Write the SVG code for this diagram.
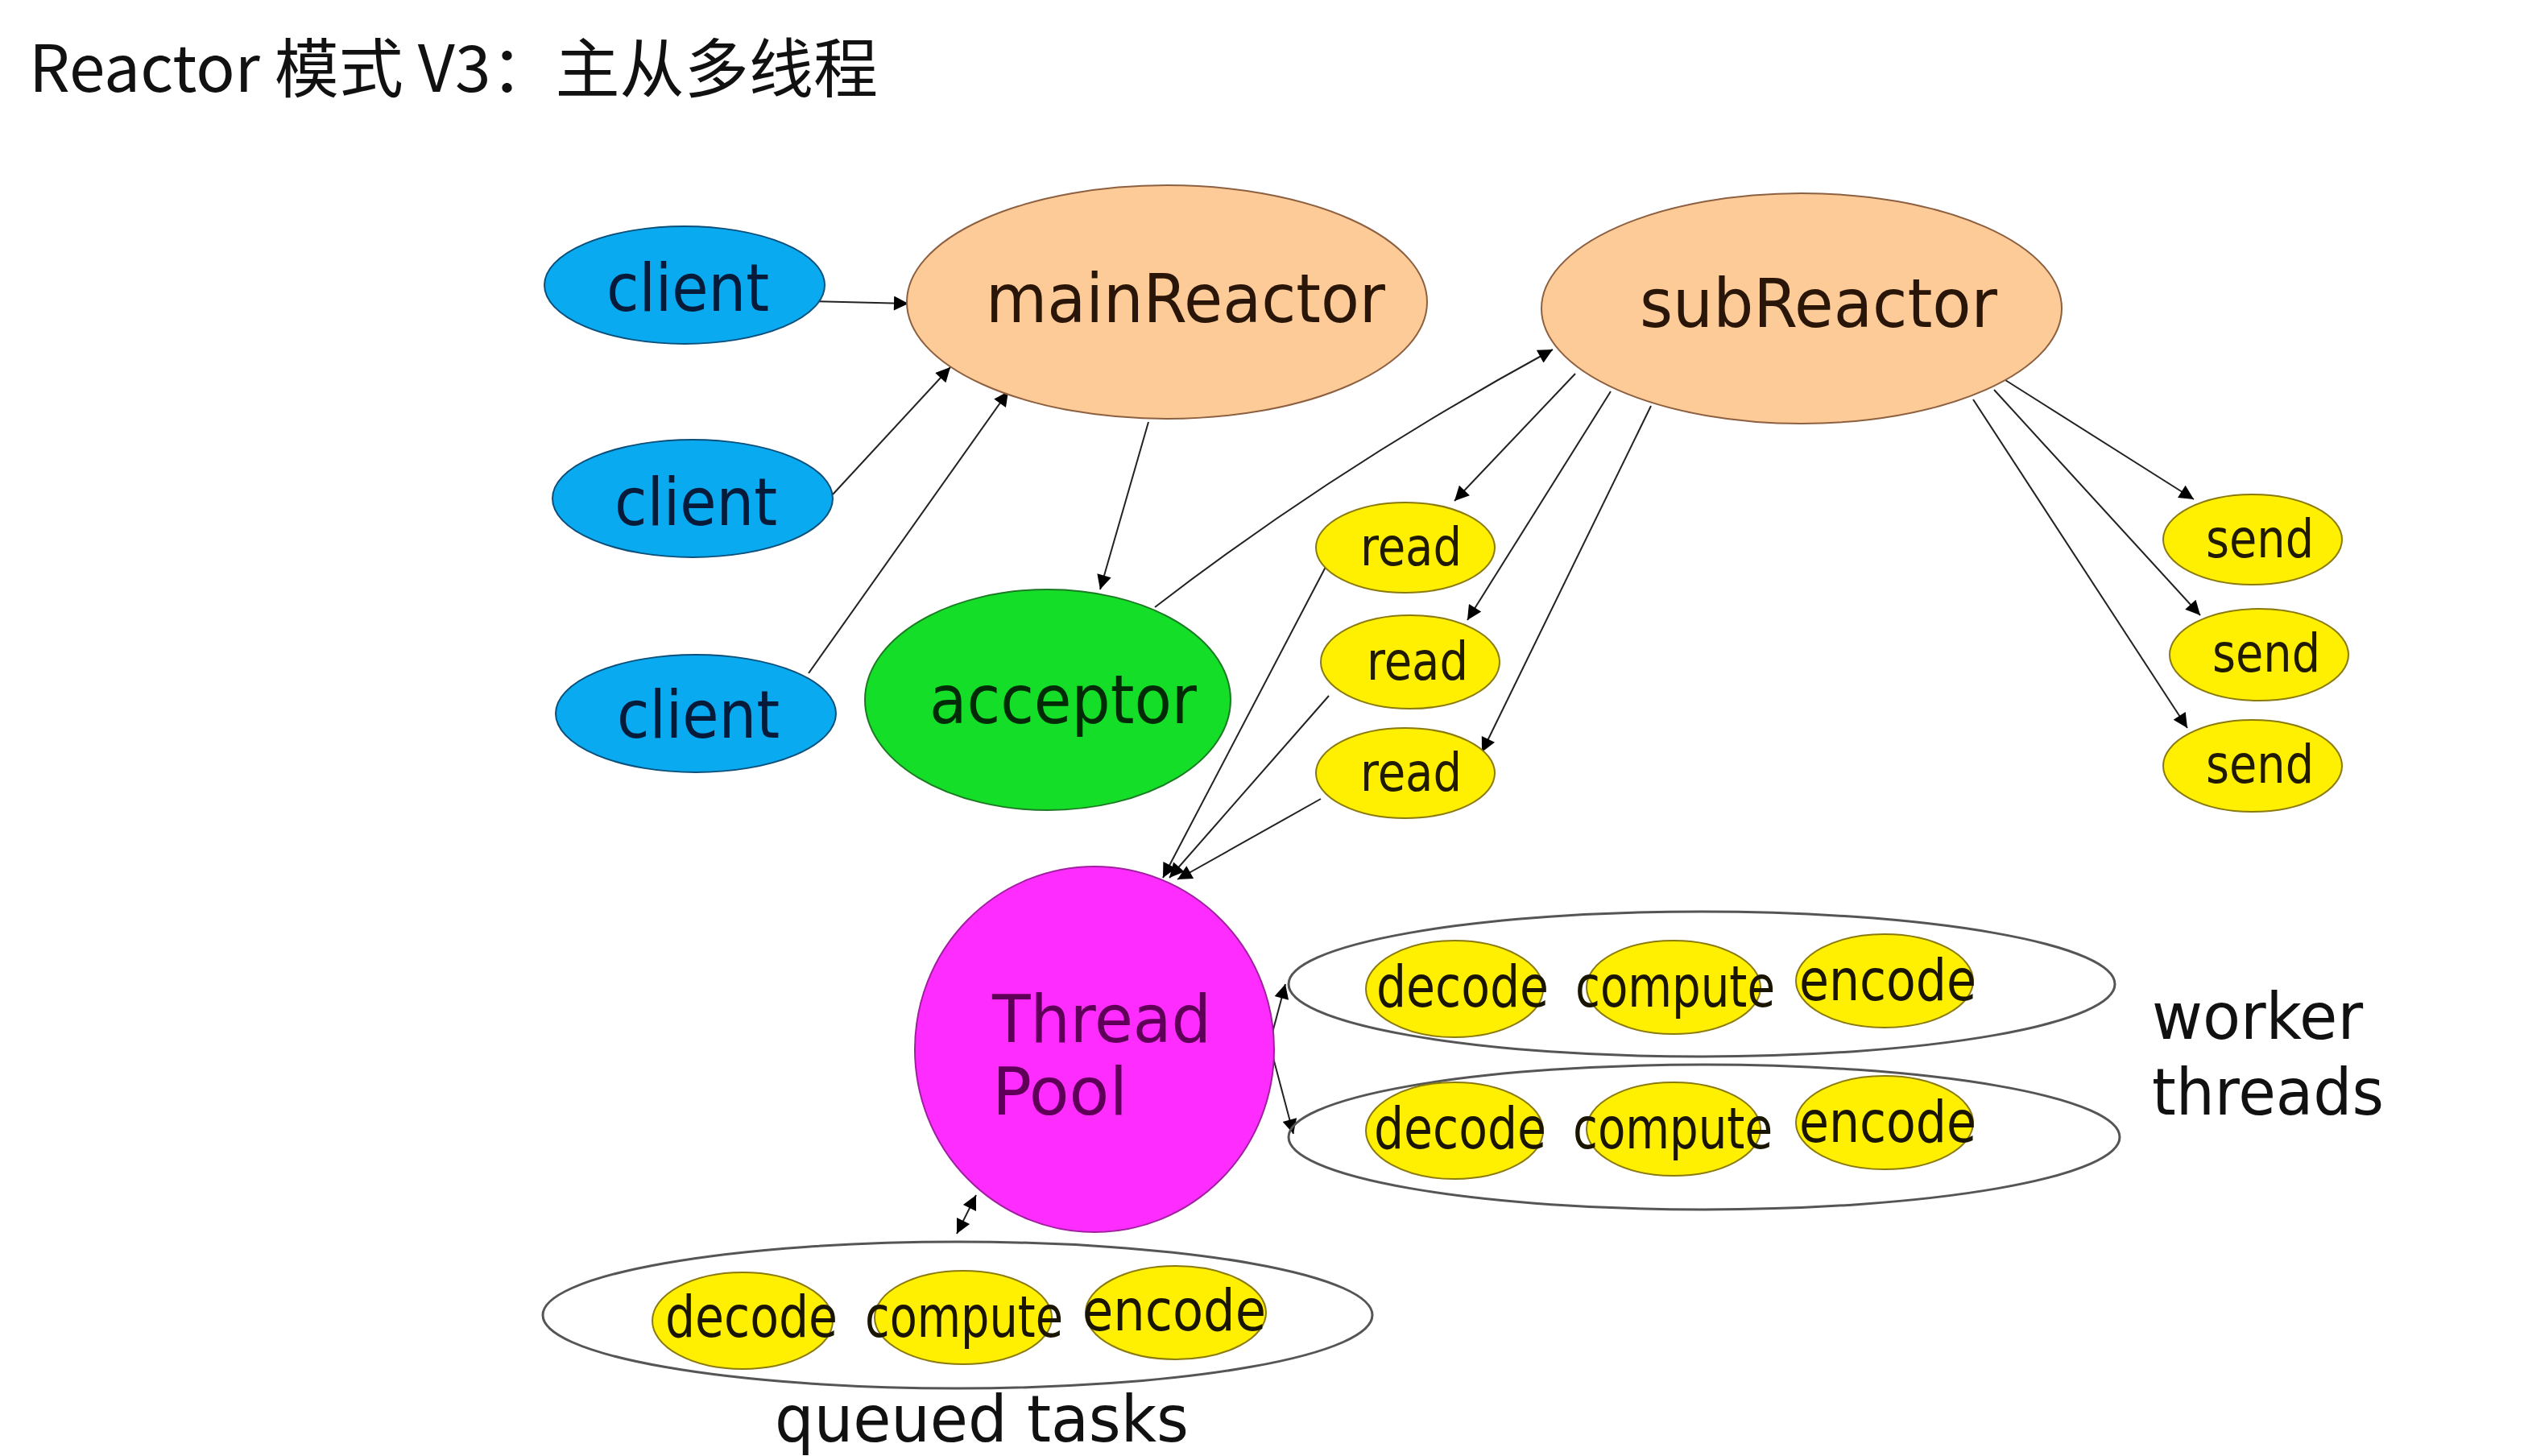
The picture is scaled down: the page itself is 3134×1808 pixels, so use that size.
<svg xmlns="http://www.w3.org/2000/svg" width="3134" height="1808" viewBox="0 0 3134 1808">
<defs>
<marker id="ah" viewBox="0 0 10 10" refX="10" refY="5" markerWidth="10" markerHeight="10" markerUnits="userSpaceOnUse" orient="auto-start-reverse">
<path d="M0,1 L10,5 L0,9 z" fill="#000"/>
</marker>
<marker id="ahb" viewBox="0 0 10 10" refX="10" refY="5" markerWidth="22" markerHeight="18" markerUnits="userSpaceOnUse" orient="auto-start-reverse">
<path d="M0,0 L10,5 L0,10 z" fill="#000"/>
</marker>
</defs>
<style>
text{font-family:"DejaVu Sans Condensed","DejaVu Sans",sans-serif;}
.t{font-family:"Noto Sans CJK SC",sans-serif;font-size:80px;fill:#111;}
.cl{fill:#0aaaf0;stroke:#0b4f7a;stroke-width:2;}
.cl-t{font-size:82px;fill:#061a3a;}
.re{fill:#fdcb98;stroke:#8c6040;stroke-width:2;}
.re-t{font-size:84px;fill:#2a1608;}
.ac{fill:#14de28;stroke:#1d7a24;stroke-width:2;}
.ac-t{font-size:84px;fill:#022a06;}
.ye{fill:#ffef00;stroke:#8a7a10;stroke-width:2;}
.ye-t{font-size:66px;fill:#201a00;}
.sm-t{font-size:72px;fill:#1a1500;}
.tp{fill:#ff2cff;stroke:#a020a0;stroke-width:2;}
.tp-t{font-size:82px;fill:#5e0058;}
.grp{fill:none;stroke:#555;stroke-width:3;}
.lbl{font-size:80px;fill:#111;}
.e{fill:none;stroke:#222;stroke-width:2;marker-end:url(#ahb);}
</style>
<rect width="3134" height="1808" fill="#fff"/>
<text class="t" x="36" y="114" textLength="1054" lengthAdjust="spacingAndGlyphs">Reactor 模式 V3：主从多线程</text>

<g id="connectors">
<line class="e" x1="1004" y1="374" x2="1128" y2="377"/>
<line class="e" x1="1034" y1="614" x2="1180" y2="456"/>
<line class="e" x1="1004" y1="836" x2="1252" y2="486"/>
<line class="e" x1="1426" y1="524" x2="1366" y2="732"/>
<path class="e" d="M1434,754 Q1660,580 1928,434"/>
<line class="e" x1="1956" y1="464" x2="1806" y2="622"/>
<line class="e" x1="2000" y1="486" x2="1822" y2="770"/>
<line class="e" x1="2050" y1="504" x2="1840" y2="934"/>
<line class="e" x1="2490" y1="472" x2="2724" y2="620"/>
<line class="e" x1="2476" y1="484" x2="2732" y2="764"/>
<line class="e" x1="2450" y1="496" x2="2716" y2="904"/>
<line class="e" x1="1646" y1="704" x2="1444" y2="1090"/>
<line class="e" x1="1650" y1="864" x2="1452" y2="1090"/>
<line class="e" x1="1640" y1="992" x2="1462" y2="1092"/>
<line class="e" x1="1580" y1="1282" x2="1596" y2="1222"/>
<line class="e" x1="1580" y1="1310" x2="1606" y2="1408"/>
<line class="e" x1="1188" y1="1532" x2="1212" y2="1484" marker-start="url(#ahb)"/>
</g>

<g id="client1"><ellipse class="cl" cx="850" cy="354" rx="174" ry="73"/><text class="cl-t" x="854" y="386" text-anchor="middle" textLength="202" lengthAdjust="spacingAndGlyphs">client</text></g>
<g id="client2"><ellipse class="cl" cx="860" cy="619" rx="174" ry="73"/><text class="cl-t" x="864" y="652" text-anchor="middle" textLength="202" lengthAdjust="spacingAndGlyphs">client</text></g>
<g id="client3"><ellipse class="cl" cx="864" cy="886" rx="174" ry="73"/><text class="cl-t" x="867" y="916" text-anchor="middle" textLength="202" lengthAdjust="spacingAndGlyphs">client</text></g>

<g id="mainReactor"><ellipse class="re" cx="1449" cy="375" rx="323" ry="145"/><text class="re-t" x="1472" y="400" text-anchor="middle" textLength="496" lengthAdjust="spacingAndGlyphs">mainReactor</text></g>
<g id="subReactor"><ellipse class="re" cx="2237" cy="383" rx="323" ry="143"/><text class="re-t" x="2258" y="406" text-anchor="middle" textLength="444" lengthAdjust="spacingAndGlyphs">subReactor</text></g>
<g id="acceptor"><ellipse class="ac" cx="1301" cy="869" rx="227" ry="137"/><text class="ac-t" x="1320" y="898" text-anchor="middle" textLength="332" lengthAdjust="spacingAndGlyphs">acceptor</text></g>

<g id="read1"><ellipse class="ye" cx="1745" cy="680" rx="111" ry="56"/><text class="ye-t" x="1752" y="702" text-anchor="middle" textLength="126" lengthAdjust="spacingAndGlyphs">read</text></g>
<g id="read2"><ellipse class="ye" cx="1751" cy="822" rx="111" ry="58"/><text class="ye-t" x="1760" y="844" text-anchor="middle" textLength="126" lengthAdjust="spacingAndGlyphs">read</text></g>
<g id="read3"><ellipse class="ye" cx="1745" cy="960" rx="111" ry="56"/><text class="ye-t" x="1752" y="982" text-anchor="middle" textLength="126" lengthAdjust="spacingAndGlyphs">read</text></g>

<g id="send1"><ellipse class="ye" cx="2797" cy="670" rx="111" ry="56"/><text class="ye-t" x="2806" y="692" text-anchor="middle" textLength="134" lengthAdjust="spacingAndGlyphs">send</text></g>
<g id="send2"><ellipse class="ye" cx="2805" cy="813" rx="111" ry="57"/><text class="ye-t" x="2814" y="834" text-anchor="middle" textLength="134" lengthAdjust="spacingAndGlyphs">send</text></g>
<g id="send3"><ellipse class="ye" cx="2797" cy="951" rx="111" ry="57"/><text class="ye-t" x="2806" y="972" text-anchor="middle" textLength="134" lengthAdjust="spacingAndGlyphs">send</text></g>

<g id="threadPool"><ellipse class="tp" cx="1359" cy="1303" rx="223" ry="227"/><text class="tp-t" x="1232" y="1294" textLength="272" lengthAdjust="spacingAndGlyphs">Thread</text><text class="tp-t" x="1232" y="1384" textLength="168" lengthAdjust="spacingAndGlyphs">Pool</text></g>

<g id="workerThread1">
<ellipse class="grp" cx="2113" cy="1222" rx="513" ry="90"/>
<ellipse class="ye" cx="1806" cy="1228" rx="110" ry="60"/>
<ellipse class="ye" cx="2078" cy="1226" rx="108" ry="58"/>
<ellipse class="ye" cx="2340" cy="1218" rx="110" ry="58"/>
<text class="sm-t" x="1816" y="1250" text-anchor="middle" textLength="214" lengthAdjust="spacingAndGlyphs">decode</text>
<text class="sm-t" x="2080" y="1250" text-anchor="middle" textLength="248" lengthAdjust="spacingAndGlyphs">compute</text>
<text class="sm-t" x="2344" y="1242" text-anchor="middle" textLength="220" lengthAdjust="spacingAndGlyphs">encode</text>
</g>
<g id="workerThread2">
<ellipse class="grp" cx="2116" cy="1412" rx="516" ry="90"/>
<ellipse class="ye" cx="1806" cy="1404" rx="110" ry="60"/>
<ellipse class="ye" cx="2078" cy="1402" rx="108" ry="58"/>
<ellipse class="ye" cx="2340" cy="1394" rx="110" ry="58"/>
<text class="sm-t" x="1813" y="1426" text-anchor="middle" textLength="214" lengthAdjust="spacingAndGlyphs">decode</text>
<text class="sm-t" x="2077" y="1426" text-anchor="middle" textLength="248" lengthAdjust="spacingAndGlyphs">compute</text>
<text class="sm-t" x="2344" y="1418" text-anchor="middle" textLength="220" lengthAdjust="spacingAndGlyphs">encode</text>
</g>
<g id="queuedTasks">
<ellipse class="grp" cx="1189" cy="1633" rx="515" ry="91"/>
<ellipse class="ye" cx="922" cy="1640" rx="112" ry="60"/>
<ellipse class="ye" cx="1196" cy="1636" rx="110" ry="58"/>
<ellipse class="ye" cx="1460" cy="1630" rx="112" ry="58"/>
<text class="sm-t" x="933" y="1660" text-anchor="middle" textLength="214" lengthAdjust="spacingAndGlyphs">decode</text>
<text class="sm-t" x="1197" y="1660" text-anchor="middle" textLength="246" lengthAdjust="spacingAndGlyphs">compute</text>
<text class="sm-t" x="1458" y="1652" text-anchor="middle" textLength="228" lengthAdjust="spacingAndGlyphs">encode</text>
</g>

<g id="labels">
<text class="lbl" x="2672" y="1290" textLength="262" lengthAdjust="spacingAndGlyphs">worker</text>
<text class="lbl" x="2672" y="1384" textLength="288" lengthAdjust="spacingAndGlyphs">threads</text>
<text class="lbl" x="962" y="1790" textLength="514" lengthAdjust="spacingAndGlyphs">queued tasks</text>
</g>
</svg>
